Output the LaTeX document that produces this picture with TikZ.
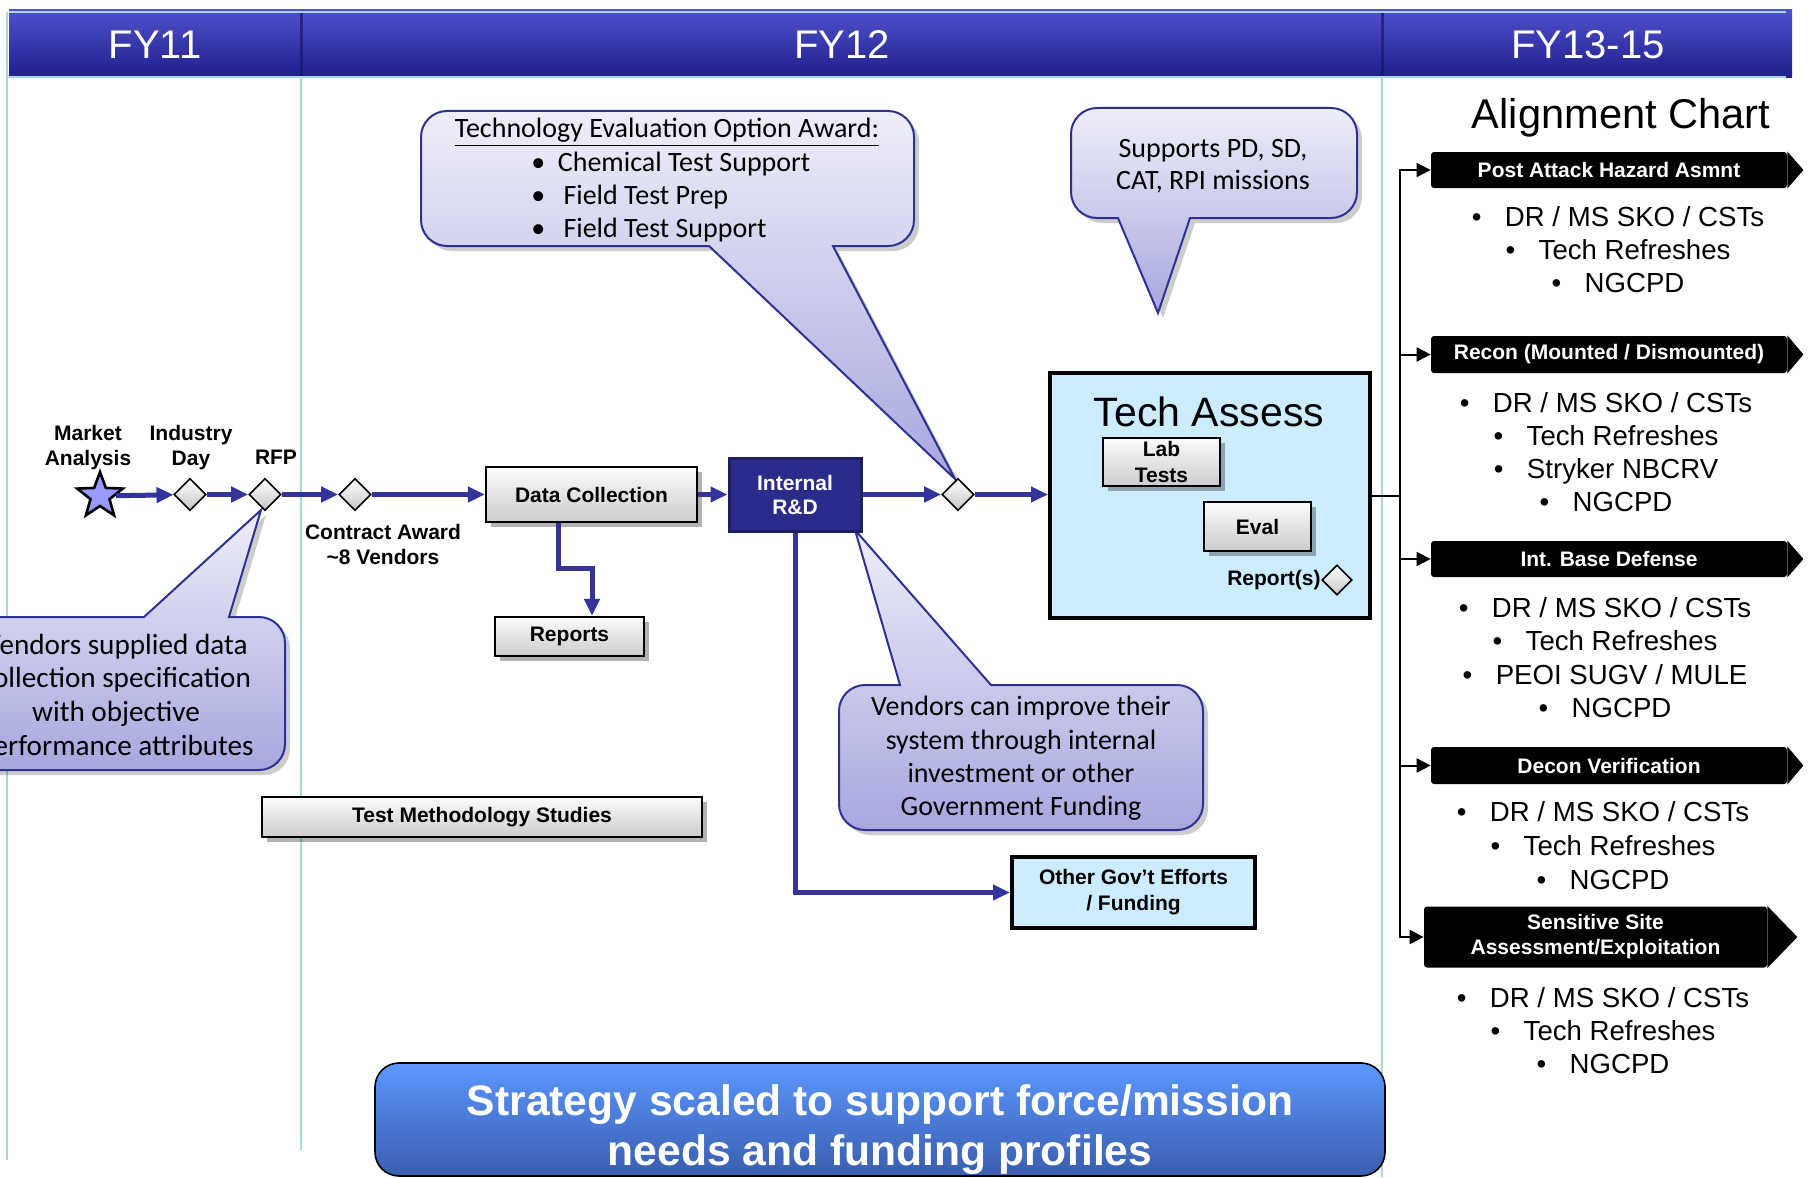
\documentclass[tikz,border=0pt]{standalone}
\usepackage{fontspec}
\setmainfont{Liberation Sans}
\newfontfamily\calfont{Carlito}
\usetikzlibrary{shapes.geometric,arrows.meta,calc,shadows}
\definecolor{flow}{HTML}{333399}
\definecolor{navy}{HTML}{2E3192}
\definecolor{rdfill}{HTML}{2B2B8C}
\definecolor{ltblue}{HTML}{CCECFF}
\definecolor{gridc}{HTML}{A9D6DE}
\definecolor{calltop}{HTML}{EEEEF9}
\definecolor{callbot}{HTML}{A7A7DF}
\definecolor{hdrtop}{HTML}{5050CC}
\definecolor{hdrmid}{HTML}{2828A6}
\definecolor{hdrbot}{HTML}{1E1E8C}
\definecolor{strtop}{HTML}{5C97FF}
\definecolor{strbot}{HTML}{3A5DAE}
\definecolor{starc}{HTML}{9999FF}
\newcommand\blt{•\hspace{0.85em}}
\begin{document}
\begin{tikzpicture}[x=0.5pt,y=-0.5pt,
  graybox/.style={draw=black, line width=1.1pt, top color=gray!3, bottom color=gray!40,
    font=\bfseries\fontsize{10.5}{13}\selectfont, align=center, inner sep=0pt,
    drop shadow={shadow xshift=2.5pt,shadow yshift=-2.5pt,opacity=0.3,fill=black}},
  diam/.style={diamond, draw=black, line width=0.8pt, top color=white, bottom color=gray!45,
    minimum width=16pt, minimum height=16pt, inner sep=0pt},
  lbl/.style={font=\bfseries\fontsize{10.5}{12.5}\selectfont, align=center, inner sep=0pt},
  flowarrow/.style={draw=flow, line width=2.5pt, -{Triangle[length=8.5pt,width=7.5pt]}},
  blkarrow/.style={draw=black, line width=1pt, -{Triangle[length=7pt,width=7pt]}},
  banner/.style={fill=black, text=white, font=\bfseries\fontsize{10.5}{12.5}\selectfont,
    minimum width=178pt, minimum height=18pt, inner sep=0pt, rounded corners=1.5pt, align=center},
  bul/.style={font=\fontsize{13.8}{16.5}\selectfont, align=center, inner sep=0pt},
  callout/.style={draw=navy, line width=1pt, top color=calltop, bottom color=callbot,
    preaction={fill=black, opacity=0.2, transform canvas={xshift=2.5pt,yshift=-2.5pt}}},
  calltext/.style={font=\calfont\fontsize{14}{16.7}\selectfont, align=center, inner sep=0pt},
  hdrtxt/.style={text=white, font=\fontsize{20}{24}\selectfont, inner sep=0pt},
  bluebox/.style={draw=black, line width=2pt, fill=ltblue, inner sep=0pt, align=center}
]
\useasboundingbox (0,0) rectangle (1808,1177);
\clip (0,0) rectangle (1808,1177);

% grid lines
\draw[gridc, line width=0.8pt] (7,12) -- (7,1160);
\draw[gridc, line width=0.8pt] (301,12) -- (301,1150);
\draw[gridc, line width=0.8pt] (1382,12) -- (1382,1177);

% header bar
\shade[top color=hdrtop, middle color=hdrmid, bottom color=hdrbot] (9,10) rectangle (1792,78);
\draw[hdrbot!80!black, line width=1.5pt, opacity=0.7] (301,12) -- (301,77);
\draw[hdrbot!80!black, line width=1.5pt, opacity=0.7] (1382,12) -- (1382,77);
\draw[gridc, line width=0.8pt] (9,12) -- (1786,12);
\draw[gridc, line width=0.8pt] (9,77) -- (1786,77);
\node[hdrtxt] (fy11) at (155,45) {FY11};
\node[hdrtxt] (fy12) at (842,45) {FY12};
\node[hdrtxt] (fy13) at (1588,45) {FY13-15};

% callouts
\path[callout] [rounded corners=13pt] (100,770) -- (-61,770) -- (-61,617) [sharp corners] -- (144,617)
  -- (261,510) -- (229,617) [rounded corners=13pt] -- (285,617) -- (285,770) -- cycle;
\node[calltext, font=\calfont\fontsize{14.6}{16.8}\selectfont] (c1) at (116,697) {Vendors supplied data\\collection specification\\with objective\\performance attributes};

\path[callout] [rounded corners=13pt] (600,111) -- (421,111) -- (421,246) [sharp corners] -- (709,246)
  -- (955,479) -- (833,246) [rounded corners=13pt] -- (914,246) -- (914,111) -- cycle;
\node[calltext] (c2t) at (667,132) {\underline{Technology Evaluation Option Award:}};
\node[calltext, align=left, anchor=west] (c2b) at (531,197) {•\hspace{0.45em}Chemical Test Support\\•\hspace{0.65em}Field Test Prep\\•\hspace{0.65em}Field Test Support};

\path[callout] [rounded corners=13pt] (1200,108) -- (1071,108) -- (1071,218) [sharp corners] -- (1118,218)
  -- (1158,313) -- (1190,218) [rounded corners=13pt] -- (1357,218) -- (1357,108) -- cycle;
\node[calltext, font=\calfont\fontsize{14}{16}\selectfont] (c3) at (1213,166) {Supports PD, SD,\\CAT, RPI missions};

\path[callout] [rounded corners=13pt] (1000,830) -- (839,830) -- (839,685) [sharp corners] -- (900,685)
  -- (855,530) -- (991,685) [rounded corners=13pt] -- (1203,685) -- (1203,830) -- cycle;
\node[calltext] (c4) at (1021,758.5) {Vendors can improve their\\system through internal\\investment or other\\Government Funding};

% main flow nodes
\node[star, star points=5, star point ratio=2.4, minimum size=24pt, inner sep=0pt,
  fill=starc, draw=black, line width=1.3pt] (star) at (100,496) {};
\node[diam] (d1) at (190,494.5) {};
\node[diam] (d2) at (265,494.5) {};
\node[diam] (d3) at (355,494.5) {};
\node[lbl] (lma) at (88,447.5) {Market\\Analysis};
\node[lbl] (lid) at (191,447.5) {Industry\\Day};
\node[lbl] (lrfp) at (276,457) {RFP};
\node[lbl] (lca) at (383,544.5) {Contract Award\\\textasciitilde 8 Vendors};

\node[graybox, minimum width=105.5pt, minimum height=27.5pt] (dc) at (591.5,494.5) {Data Collection};
\node[graybox, minimum width=74.5pt, minimum height=19.5pt] (rep) at (569.5,636.5) {Reports};
\node[graybox, minimum width=220pt, minimum height=20pt] (tms) at (482,817) {Test Methodology Studies};

\node[draw=rdfill!70!black, line width=1.5pt, fill=rdfill, text=white, align=center, inner sep=0pt,
  font=\bfseries\fontsize{10.5}{12}\selectfont, minimum width=66pt, minimum height=36.5pt] (rd) at (795,494.5) {Internal\\R\&D};
\node[diam] (d4) at (958,494.5) {};

\node[bluebox, minimum width=160pt, minimum height=122.5pt] (ta) at (1210,495.5) {};
\node[inner sep=0pt, font=\fontsize{20.5}{24}\selectfont] (tat) at (1209,412) {Tech Assess};
\node[graybox, minimum width=58.5pt, minimum height=24pt] (lab) at (1161.5,462) {Lab\\Tests};
\node[graybox, minimum width=53.5pt, minimum height=24.5pt] (eval) at (1257.5,526.5) {Eval};
\node[diam, minimum width=15pt, minimum height=15pt] (d5) at (1337,580) {};
\node[lbl, anchor=east] (rpt) at (1321,580) {Report(s)};

\node[bluebox, font=\bfseries\fontsize{10.5}{13}\selectfont, minimum width=121.5pt, minimum height=35.5pt] (og) at (1133.5,892.5) {Other Gov’t Efforts\\/ Funding};

% flow connectors
\draw[flowarrow] (star) -- (d1);
\draw[flowarrow] (d1) -- (d2);
\draw[flowarrow] (d2) -- (d3);
\draw[flowarrow] (d3) -- (dc);
\draw[flowarrow] (dc) -- (rd);
\draw[flowarrow] (rd) -- (d4);
\draw[flowarrow] (d4) -- (d4 -| ta.west);
\coordinate (k1) at (558,568);
\coordinate (k2) at (592,568);
\draw[flowarrow] (dc.south -| k1) -- (k1) -- (k2) -- (rep.north -| k2);
\draw[flowarrow] (rd.south) |- (og.west);

% alignment chart
\node[inner sep=0pt, font=\fontsize{20.8}{24}\selectfont] (act) at (1621,118) {Alignment Chart};

\node[banner] (b1) at (1609,170) {Post Attack Hazard Asmnt};
\fill (b1.north east) -- ($(b1.east)+(16,0)$) -- (b1.south east) -- cycle;
\node[banner, minimum height=18.5pt] (b2) at (1609,354.5) {Recon (Mounted / Dismounted)};
\fill (b2.north east) -- ($(b2.east)+(16,0)$) -- (b2.south east) -- cycle;
\node[banner, minimum height=18pt] (b3) at (1609,559) {Int. Base Defense};
\fill (b3.north east) -- ($(b3.east)+(16,0)$) -- (b3.south east) -- cycle;
\node[banner, minimum height=18.5pt] (b4) at (1609,765.5) {Decon Verification};
\fill (b4.north east) -- ($(b4.east)+(16,0)$) -- (b4.south east) -- cycle;
\node[banner, minimum width=171.5pt, minimum height=30.5pt, font=\bfseries\fontsize{10.5}{12.5}\selectfont] (b5) at (1595.5,937) {Sensitive Site\\Assessment/Exploitation};
\fill (b5.north east) -- ($(b5.east)+(30,0)$) -- (b5.south east) -- cycle;

\coordinate (sp) at (1400,495.5);
\draw[black, line width=1pt] (ta.east) -- (sp);
\draw[blkarrow] (sp) |- (b1.west);
\draw[blkarrow] (sp) |- (b2.west);
\draw[blkarrow] (sp) |- (b3.west);
\draw[blkarrow] (sp) |- (b4.west);
\draw[blkarrow] (sp) |- (b5.west);

\node[bul] (g1) at (1618,250) {\blt DR / MS SKO / CSTs\\\blt Tech Refreshes\\\blt NGCPD};
\node[bul] (g2) at (1606,452) {\blt DR / MS SKO / CSTs\\\blt Tech Refreshes\\\blt Stryker NBCRV\\\blt NGCPD};
\node[bul, font=\fontsize{13.8}{16.65}\selectfont] (g3) at (1605,657.5) {\blt DR / MS SKO / CSTs\\\blt Tech Refreshes\\\blt PEOI SUGV / MULE\\\blt NGCPD};
\node[bul, font=\fontsize{13.8}{17}\selectfont] (g4) at (1603,846) {\blt DR / MS SKO / CSTs\\\blt Tech Refreshes\\\blt NGCPD};
\node[bul, font=\fontsize{13.8}{16.5}\selectfont] (g5) at (1603,1031) {\blt DR / MS SKO / CSTs\\\blt Tech Refreshes\\\blt NGCPD};

% bottom strategy box
\node[draw=black, line width=0.8pt, top color=strtop, bottom color=strbot, rounded corners=12pt,
  inner sep=0pt, minimum width=505pt, minimum height=56.5pt] (strat) at (880,1119.5) {};
\node[text=white, font=\bfseries\fontsize{21.3}{25.2}\selectfont, align=center, inner sep=0pt]
  (strattxt) at (880,1129.5) {Strategy scaled to support force/mission\\needs and funding profiles};
\end{tikzpicture}
\end{document}
